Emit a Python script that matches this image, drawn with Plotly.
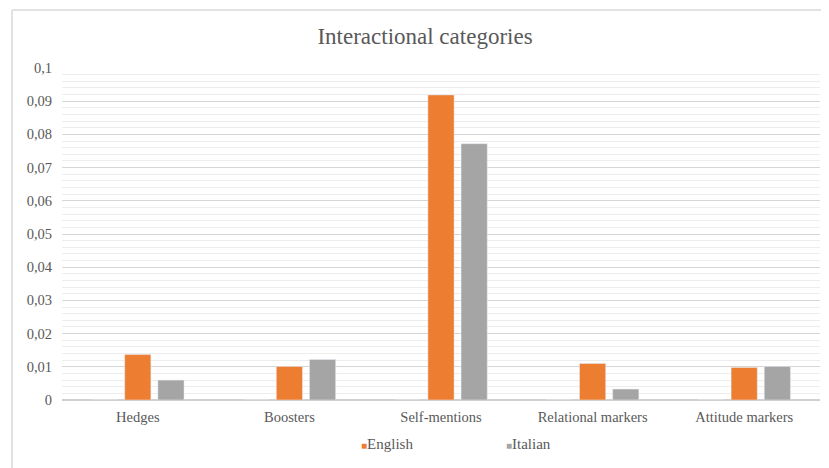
import plotly.graph_objects as go

categories = ["Hedges", "Boosters", "Self-mentions", "Relational markers", "Attitude markers"]
english = [0.0137, 0.0101, 0.0919, 0.0110, 0.0098]
italian = [0.0060, 0.0122, 0.0772, 0.0033, 0.0101]
blank = [0, 0, 0, 0, 0]

ORANGE = "#ED7D31"
GRAY = "#A5A5A5"
TXT = "#595959"
FONT = "Liberation Serif"

# figure is placed at (8,8) in the page by the default body margin
W, H = 821, 460
L, R, T, B = 54, 9, 60, 68
PW, PH = W - L - R, H - T - B

fig = go.Figure()
fig.add_trace(go.Bar(x=categories, y=blank, name="", marker_color="rgba(0,0,0,0)",
                     showlegend=False, hoverinfo="skip"))
fig.add_trace(go.Bar(x=categories, y=english, name="English", marker_color=ORANGE,
                     showlegend=False))
fig.add_trace(go.Bar(x=categories, y=italian, name="Italian", marker_color=GRAY,
                     showlegend=False))
for nm, col in [("English", ORANGE), ("Italian", GRAY)]:
    fig.add_trace(go.Scatter(
        x=[None], y=[None], mode="markers",
        name=f'<span style="color:{col};font-size:10px">■</span>{nm}',
        marker=dict(symbol="square", size=1, color="rgba(0,0,0,0)")))

fig.update_layout(
    width=W, height=H,
    margin=dict(l=L, r=R, t=T, b=B, autoexpand=False),
    paper_bgcolor="white", plot_bgcolor="white",
    separators=", ",
    barmode="group", bargap=0.344, bargroupgap=0.21,
    font=dict(family=FONT, size=14.5, color=TXT),
    title=dict(text="Interactional categories", font=dict(family=FONT, size=23, color=TXT),
               x=417/W, xref="container", xanchor="center",
               y=1-28/H, yref="container", yanchor="middle"),
    legend=dict(orientation="h", x=(313-L)/PW, xanchor="left", y=(PH+T-435)/PH, yanchor="middle",
                entrywidth=100, entrywidthmode="pixels", itemwidth=30,
                font=dict(family=FONT, size=15, color=TXT), bgcolor="rgba(0,0,0,0)"),
    xaxis=dict(showgrid=False, showline=False, ticks="", ticklabelstandoff=6,
               tickfont=dict(family=FONT, size=14.5, color=TXT)),
    yaxis=dict(range=[0, 0.1], dtick=0.01, tick0=0, showgrid=True, gridcolor="#d6d6d6",
               gridwidth=1, zeroline=True, zerolinecolor="#d0d0d0", zerolinewidth=1.5,
               showline=False, ticks="", ticklabelstandoff=9,
               tickfont=dict(family=FONT, size=14.5, color=TXT),
               minor=dict(dtick=0.002, showgrid=True, gridcolor="#ededed", gridwidth=1)),
    shapes=[
        dict(type="line", xref="paper", yref="paper",
             x0=(4-L)/PW, x1=(W-L)/PW, y0=(PH+T-2)/PH, y1=(PH+T-2)/PH,
             line=dict(color="#d9d9d9", width=1.5)),
        dict(type="line", xref="paper", yref="paper",
             x0=(4-L)/PW, x1=(4-L)/PW, y0=(PH+T-2)/PH, y1=(PH+T-H)/PH,
             line=dict(color="#d9d9d9", width=1.5)),
    ],
)

fig.write_html("out.html")
